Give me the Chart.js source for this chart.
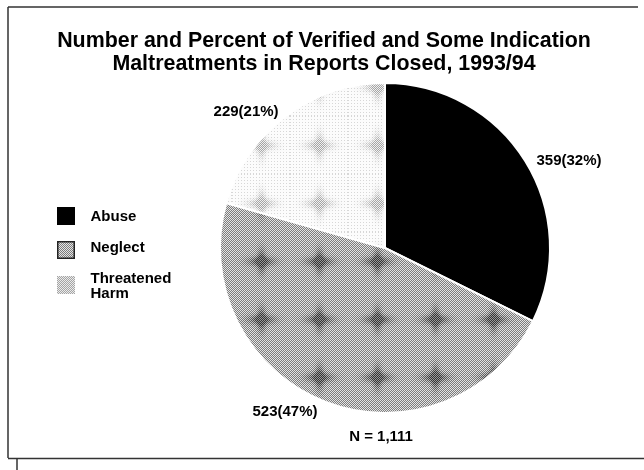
<!DOCTYPE html>
<html><head><meta charset="utf-8">
<script src="https://cdn.jsdelivr.net/npm/chart.js@4.4.0/dist/chart.umd.min.js"></script>
<style>html,body{margin:0;padding:0;background:#fff}</style>
</head><body>
<canvas id="c" width="644" height="470"></canvas>
<script>
const titleLines = ['Number and Percent of Verified and Some Indication', 'Maltreatments in Reports Closed, 1993/94'];
const categories = ['Abuse', 'Neglect', 'Threatened Harm'];
const counts = [359, 523, 229];
const totalPrefix = 'N = ';

const FONT = '"Liberation Sans", Arial, Helvetica, sans-serif';
const canvas = document.getElementById('c');
const mainCtx = canvas.getContext('2d');

function tileCanvas(kind, size) {
  const c = document.createElement('canvas');
  c.width = c.height = size;
  const g = c.getContext('2d');
  const img = g.createImageData(size, size);
  for (let y = 0; y < size; y++) {
    for (let x = 0; x < size; x++) {
      const dx = x - size / 2, dy = y - size / 2;
      const blot = Math.min(1, Math.exp(-((dx / 13) ** 2 + (dy / 4.5) ** 2)) + Math.exp(-((dx / 4) ** 2 + (dy / 12) ** 2)));
      const chk = (x + y) & 1;
      let v;
      if (kind === 'neglect') {
        v = chk ? 125 : 228;
        v -= blot * 75;
      } else if (kind === 'threat') {
        const base = (x % 3 === 0 && y % 3 === 0) ? 215 : 252;
        const bv = chk ? 150 : 238;
        v = base * (1 - blot * 0.85) + bv * blot * 0.85;
      } else {
        v = chk ? 165 : 235;
      }
      const k = (y * size + x) * 4;
      img.data[k] = img.data[k + 1] = img.data[k + 2] = Math.max(0, Math.min(255, v));
      img.data[k + 3] = 255;
    }
  }
  g.putImageData(img, 0, 0);
  return c;
}

const neglectTile = tileCanvas('neglect', 58);
const threatTile = tileCanvas('threat', 58);
const threatLegendTile = tileCanvas('threatLegend', 4);
const sliceFills = ['#000000', mainCtx.createPattern(neglectTile, 'repeat'), mainCtx.createPattern(threatTile, 'repeat')];

// legend swatch: an 18px square placed inside the legend item box
const LEG_BOX_W = 26, LEG_BOX_H = 31, LEG_PAD = 0;
const legendSquareTop = [6, 9, 13];
function legendPattern(kind, dy) {
  const c = document.createElement('canvas');
  c.width = LEG_BOX_W; c.height = LEG_BOX_H;
  const g = c.getContext('2d');
  let fill = '#000';
  if (kind === 1) fill = g.createPattern(neglectTile, 'repeat');
  if (kind === 2) fill = g.createPattern(threatLegendTile, 'repeat');
  g.fillStyle = fill;
  g.fillRect(0, dy, 18, 18);
  if (kind === 1) {
    g.strokeStyle = '#222'; g.lineWidth = 1.5;
    g.strokeRect(0.75, dy + 0.75, 16.5, 16.5);
  }
  return mainCtx.createPattern(c, 'no-repeat');
}

const frame = {
  id: 'frame',
  beforeDraw(chart) {
    const c = chart.ctx;
    c.save();
    c.fillStyle = '#fff';
    c.fillRect(0, 0, chart.width, chart.height);
    c.strokeStyle = '#333';
    c.lineWidth = 1.5;
    c.beginPath();
    c.moveTo(8, 7); c.lineTo(638, 7);
    c.moveTo(8, 7); c.lineTo(8, 458);
    c.moveTo(8, 458.5); c.lineTo(644, 458.5);
    c.moveTo(17, 458); c.lineTo(17, 470);
    c.stroke();
    c.restore();
  }
};

// anchor each legend swatch pattern to its legend item box (legend aligned 'start')
const legendSwatches = {
  id: 'legendSwatches',
  beforeDraw(chart) {
    const lg = chart.legend;
    if (!lg) return;
    const lab = lg.options.labels;
    const t = lg.options.title;
    const titleH = t.display ? Chart.helpers.toFont(t.font).lineHeight + Chart.helpers.toPadding(t.padding).height : 0;
    const lineH = Chart.helpers.toFont(lab.font).lineHeight;
    const x = lg.left + lab.padding;
    let y = lg.top + titleH + lab.padding;
    lg.legendItems.forEach((it) => {
      if (it.fillStyle && it.fillStyle.setTransform) {
        it.fillStyle.setTransform(new DOMMatrix([1, 0, 0, 1, Math.round(x), Math.round(y)]));
      }
      const h = Array.isArray(it.text) ? it.text.length * lineH : Math.max(lab.boxHeight, lab.font.size);
      y += h + lab.padding;
    });
  }
};

const valueLabels = {
  id: 'valueLabels',
  afterDatasetsDraw(chart, args, opts) {
    const meta = chart.getDatasetMeta(0);
    const data = chart.data.datasets[0].data;
    const total = data.reduce((a, b) => a + b, 0);
    const c = chart.ctx;
    c.save();
    c.font = opts.font;
    c.fillStyle = '#000';
    c.textAlign = 'center';
    c.textBaseline = 'middle';
    meta.data.forEach((arc, i) => {
      const off = opts.offsets[i];
      const pct = Math.round(100 * data[i] / total);
      c.fillText(data[i] + '(' + pct + '%)', arc.x + off[0] * arc.outerRadius, arc.y + off[1] * arc.outerRadius);
    });
    const a0 = meta.data[0];
    const totalText = totalPrefix + String(total).replace(/\B(?=(\d{3})+(?!\d))/g, ',');
    c.fillText(totalText, a0.x + opts.totalOffset[0] * a0.outerRadius, a0.y + opts.totalOffset[1] * a0.outerRadius);
    c.restore();
  }
};

new Chart(canvas, {
  type: 'pie',
  data: {
    labels: categories,
    datasets: [{
      data: counts,
      backgroundColor: sliceFills,
      borderColor: '#ffffff',
      borderWidth: 2,
      radius: 165,
      clip: false
    }]
  },
  options: {
    responsive: false,
    animation: false,
    events: [],
    rotation: 0,
    layout: { padding: { left: 57, right: 53, top: 0, bottom: 100 } },
    plugins: {
      title: {
        display: true,
        text: titleLines,
        color: '#000',
        font: { family: FONT, size: 21.4, weight: 'bold', lineHeight: 1.075 },
        padding: { top: 29.6, bottom: 50.39 }
      },
      legend: {
        position: 'left',
        align: 'start',
        maxWidth: 122,
        title: {
          display: true,
          text: '',
          font: { family: FONT, size: 15, lineHeight: '15.5px' },
          padding: { top: 185.5, bottom: 0 }
        },
        labels: {
          usePointStyle: false,
          boxWidth: LEG_BOX_W,
          boxHeight: LEG_BOX_H,
          padding: LEG_PAD,
          color: '#000',
          font: { family: FONT, size: 15, weight: 'bold', lineHeight: '15.5px' },
          generateLabels(chart) {
            return chart.data.labels.map((label, i) => ({
              text: label.indexOf(' ') >= 0 ? label.split(' ') : label,
              fillStyle: legendPattern(i, legendSquareTop[i]),
              strokeStyle: 'rgba(0,0,0,0)',
              fontColor: '#000',
              lineWidth: 0,
              hidden: false,
              index: i
            }));
          }
        }
      },
      tooltip: { enabled: false },
      valueLabels: {
        font: 'bold 15px ' + FONT,
        offsets: [[1.115, -0.527], [-0.606, 0.994], [-0.842, -0.824]],
        totalOffset: [-0.024, 1.145]
      }
    }
  },
  plugins: [frame, legendSwatches, valueLabels]
});
</script>
</body></html>
